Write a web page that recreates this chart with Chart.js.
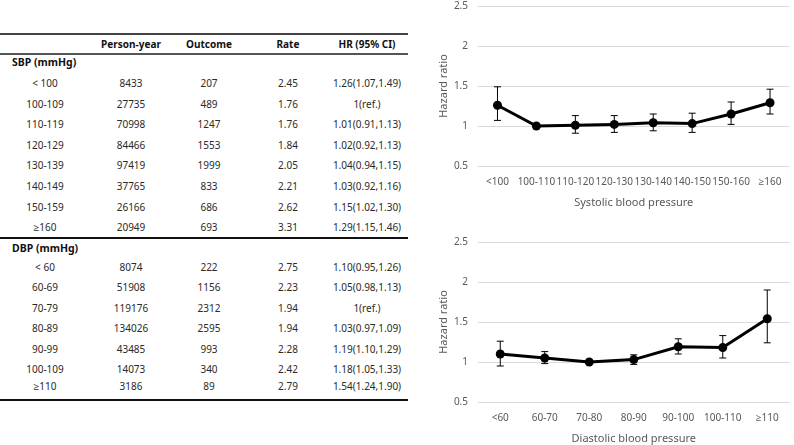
<!DOCTYPE html>
<html>
<head>
<meta charset="utf-8">
<script src="https://cdn.jsdelivr.net/npm/chart.js@4.4.1/dist/chart.umd.min.js"></script>
<style>
  html, body { margin:0; padding:0; background:#fff; }
  body { width:794px; height:445px; position:relative; overflow:hidden; font-family:"Noto Sans", "Open Sans", sans-serif; }
  .rule { position:absolute; left:0; width:408px; }
  .cell { position:absolute; height:16px; line-height:16px; font-size:10px; color:#2a2a2a; white-space:nowrap; transform:translateX(-50%); text-align:center; }
  .hdr { font-weight:bold; color:#111; }
  .grp { position:absolute; left:12px; height:16px; line-height:16px; font-size:10.5px; font-weight:bold; color:#111; }
  canvas { position:absolute; }
</style>
</head>
<body>
<div id="table"></div>
<canvas id="c1" width="394" height="222" style="left:400px;top:0px;width:394px;height:222px"></canvas>
<canvas id="c2" width="394" height="223" style="left:400px;top:222px;width:394px;height:223px"></canvas>
<script>
// ---------- DATA ----------
const headers = ["Person-year", "Outcome", "Rate", "HR (95% CI)"];

const sbpTableLabels = ["< 100", "100-109", "110-119", "120-129", "130-139", "140-149", "150-159", "\u2265160"];
const sbpPersonYear = [8433, 27735, 70998, 84466, 97419, 37765, 26166, 20949];
const sbpOutcome = [207, 489, 1247, 1553, 1999, 833, 686, 693];
const sbpRate = ["2.45", "1.76", "1.76", "1.84", "2.05", "2.21", "2.62", "3.31"];
const sbpHR = [1.26, 1, 1.01, 1.02, 1.04, 1.03, 1.15, 1.29];
const sbpLow = [1.07, null, 0.91, 0.92, 0.94, 0.92, 1.02, 1.15];
const sbpHigh = [1.49, null, 1.13, 1.13, 1.15, 1.16, 1.30, 1.46];

const dbpTableLabels = ["< 60", "60-69", "70-79", "80-89", "90-99", "100-109", "\u2265110"];
const dbpPersonYear = [8074, 51908, 119176, 134026, 43485, 14073, 3186];
const dbpOutcome = [222, 1156, 2312, 2595, 993, 340, 89];
const dbpRate = ["2.75", "2.23", "1.94", "1.94", "2.28", "2.42", "2.79"];
const dbpHR = [1.10, 1.05, 1, 1.03, 1.19, 1.18, 1.54];
const dbpLow = [0.95, 0.98, null, 0.97, 1.10, 1.05, 1.24];
const dbpHigh = [1.26, 1.13, null, 1.09, 1.29, 1.33, 1.90];

const sbpChartLabels = ["<100", "100-110", "110-120", "120-130", "130-140", "140-150", "150-160", "\u2265160"];
const dbpChartLabels = ["<60", "60-70", "70-80", "80-90", "90-100", "100-110", "\u2265110"];
const yTicks = [0.5, 1, 1.5, 2, 2.5];

// ---------- TABLE ----------
const colX = [45, 131, 209, 288, 367];
const tbl = document.getElementById('table');
function addRule(y, h, color) {
  const d = document.createElement('div');
  d.className = 'rule';
  d.style.top = y + 'px'; d.style.height = h + 'px'; d.style.background = color;
  tbl.appendChild(d);
}
function addCell(x, yc, text, cls) {
  const d = document.createElement('div');
  d.className = 'cell' + (cls ? ' ' + cls : '');
  d.style.left = x + 'px'; d.style.top = (yc - 8) + 'px';
  d.textContent = text;
  tbl.appendChild(d);
}
function addGroup(yc, text) {
  const d = document.createElement('div');
  d.className = 'grp';
  d.style.top = (yc - 8) + 'px';
  d.textContent = text;
  tbl.appendChild(d);
}
function hrText(h, l, u) {
  if (l === null) return h + "(ref.)";
  return h.toFixed(2) + "(" + l.toFixed(2) + "," + u.toFixed(2) + ")";
}
addRule(32.5, 2, '#444');
addRule(53, 2, '#555');
headers.forEach((h, i) => addCell(colX[i + 1], 44, h, 'hdr'));
addGroup(62, "SBP (mmHg)");
sbpTableLabels.forEach((lab, i) => {
  const y = 83 + i * 20.6;
  addCell(colX[0], y, lab);
  addCell(colX[1], y, String(sbpPersonYear[i]));
  addCell(colX[2], y, String(sbpOutcome[i]));
  addCell(colX[3], y, sbpRate[i]);
  addCell(colX[4], y, hrText(sbpHR[i], sbpLow[i], sbpHigh[i]));
});
addRule(237, 1.5, '#111');
addGroup(248, "DBP (mmHg)");
dbpTableLabels.forEach((lab, i) => {
  const y = i < dbpTableLabels.length - 1 ? 267 + i * 20.4 : 386;
  addCell(colX[0], y, lab);
  addCell(colX[1], y, String(dbpPersonYear[i]));
  addCell(colX[2], y, String(dbpOutcome[i]));
  addCell(colX[3], y, dbpRate[i]);
  addCell(colX[4], y, hrText(dbpHR[i], dbpLow[i], dbpHigh[i]));
});
addRule(399, 1.5, '#111');

// ---------- CHARTS ----------
const FONT = '"Noto Sans", "Open Sans", sans-serif';
const errorBars = {
  id: 'errorBars',
  afterDatasetsDraw(chart) {
    const ds = chart.data.datasets[0];
    const meta = chart.getDatasetMeta(0);
    const ys = chart.scales.y;
    const ctx = chart.ctx;
    ctx.save();
    ctx.strokeStyle = '#000';
    ctx.lineWidth = 1;
    meta.data.forEach((pt, i) => {
      const lo = ds.errLow[i], hi = ds.errHigh[i];
      if (lo === null || hi === null) return;
      const x = pt.x, y1 = ys.getPixelForValue(lo), y2 = ys.getPixelForValue(hi);
      ctx.beginPath();
      ctx.moveTo(x, y1); ctx.lineTo(x, y2);
      ctx.moveTo(x - 3.5, y1); ctx.lineTo(x + 3.5, y1);
      ctx.moveTo(x - 3.5, y2); ctx.lineTo(x + 3.5, y2);
      ctx.stroke();
    });
    ctx.restore();
  }
};
function makeChart(id, labels, hr, lo, hi, title, padTop, padBottom) {
  return new Chart(document.getElementById(id), {
    type: 'line',
    data: {
      labels: labels,
      datasets: [{
        data: hr, errLow: lo, errHigh: hi,
        borderColor: '#000', backgroundColor: '#000',
        borderWidth: 3, pointRadius: 4.5, pointHoverRadius: 4.5,
        pointBorderWidth: 0, tension: 0, fill: false
      }]
    },
    options: {
      responsive: false, animation: false, events: [],
      layout: { padding: { left: 37, right: 3, top: padTop, bottom: padBottom } },
      plugins: { legend: { display: false }, tooltip: { enabled: false } },
      scales: {
        x: {
          offset: true,
          grid: { display: false },
          border: { display: false },
          ticks: { color: '#595959', font: { size: 10, family: FONT }, padding: 2, maxRotation: 0, autoSkip: false },
          title: { display: true, text: title, color: '#595959', font: { size: 11, family: FONT }, padding: { top: 4, bottom: 0 } },
          afterFit: s => { s.height = 43; s.paddingLeft = 0; s.paddingRight = 0; }
        },
        y: {
          min: yTicks[0], max: yTicks[yTicks.length - 1],
          afterBuildTicks: s => { s.ticks = yTicks.map(v => ({ value: v })); },
          grid: { color: '#d9d9d9', drawTicks: false, lineWidth: 1 },
          border: { display: false },
          ticks: { color: '#595959', font: { size: 10, family: FONT }, padding: 10, callback: v => String(v) },
          title: { display: true, text: 'Hazard ratio', color: '#595959', font: { size: 11, family: FONT }, padding: 0 },
          afterFit: s => { s.width = 41; s.paddingTop = 0; s.paddingBottom = 0; }
        }
      }
    },
    plugins: [errorBars]
  });
}
makeChart('c1', sbpChartLabels, sbpHR, sbpLow, sbpHigh, 'Systolic blood pressure', 6, 13);
makeChart('c2', dbpChartLabels, dbpHR, dbpLow, dbpHigh, 'Diastolic blood pressure', 20, 0);
</script>
</body>
</html>
